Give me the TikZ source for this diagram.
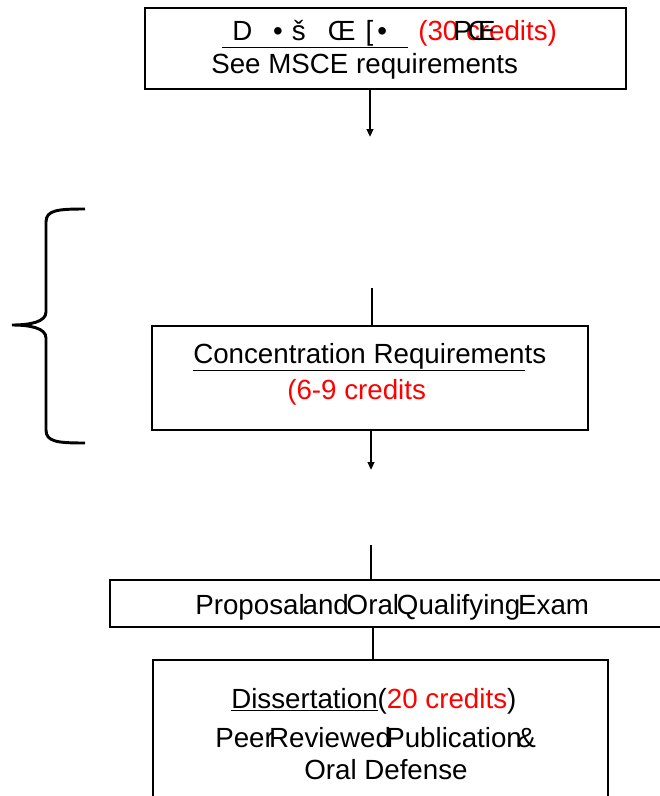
\documentclass[tikz,border=0pt]{standalone}
\usepackage{fontspec}
\setmainfont{Liberation Sans}
\usetikzlibrary{arrows.meta,positioning}
\definecolor{pred}{HTML}{FF0000}
\newcommand\tightsp[1]{\spaceskip #1\relax}
\tikzset{
  % plain white box with a heavy black outline
  box/.style  = {rectangle, draw=black, line width=2.2pt, inner sep=0pt},
  lane/.style = {line width=1.5pt, black},
  arr/.style  = {-{Triangle[length=6pt,width=5pt]}, line width=1.5pt, black},
  txt/.style  = {anchor=base west, inner sep=0pt, font=\fontsize{20.8}{24}\selectfont},
  cr/.style   = {txt, text=pred},
  brace/.style = {line width=2.2pt, black},
}

\begin{document}
\begin{tikzpicture}[x=0.75pt,y=-0.75pt]
\useasboundingbox (0,0) rectangle (660,796);
% boxes
\node[box, minimum width=360.75pt, minimum height=60.75pt] (msce) at (385.5,48.5) {};
\node[box, minimum width=327pt,    minimum height=78pt]    (conc) at (370,378) {};
\node[box, minimum width=417pt,    minimum height=35.25pt] (prop) at (388,603.5) {};
\node[box, minimum width=341.25pt, minimum height=127.5pt] (diss) at (380.5,745) {};
% texts
\node[txt] (msceT) at (222,40)
  {\underline{\hspace*{7.5pt}D\hspace*{15.7pt}•\hspace*{6.8pt}š\hspace*{16.5pt}Œ\hspace*{7.5pt}[\hspace*{3pt}•\hspace*{15.7pt}}};
\node[cr]  (msceC) at (418,40) {(30 credits)};
\node[txt] (msceP) at (453,40) {P\hspace*{-3pt}Œ};
\node[txt] (msceS) at (211,73) {See MSCE requirements};
\node[txt] (concT) at (193,363) {\underline{Concentration Requiremen}ts};
\node[cr]  (concC) at (287,399) {(6-9 credits};
\node[txt] (propT) at (195,614) {\tightsp{-1.6pt}Proposal and Oral Qualifying Exam};
\node[txt] (dissT) at (231,708) {\underline{Dissertation}(\textcolor{pred}{20 credits})};
\node[txt] (dissP) at (215,747) {\tightsp{-3.5pt}Peer Reviewed Publication \&};
\node[txt] (dissO) at (304,779) {\tightsp{0pt}Oral Defense};
% connectors
\coordinate (a1) at (370,137);
\coordinate (a2) at (372,288);
\coordinate (a3) at (371,470);
\coordinate (a4) at (371,545);
\draw[arr]  (msce.south -| a1) -- (a1);
\draw[lane] (a2) -- (a2 |- conc.north);
\draw[arr]  (conc.south -| a3) -- (a3);
\draw[lane] (a4) -- (a4 |- prop.north);
\draw[lane] ([xshift=-11pt]prop.south) -- ([xshift=-11pt]prop.south |- diss.north);
% curly brace
\draw[brace] (85,209) .. controls (58,209) and (46,210) .. (46,222) -- (46,312)
  .. controls (46,322) and (30,325) .. (12,325)
  .. controls (30,325) and (46,328) .. (46,338) -- (46,430)
  .. controls (46,442) and (58,443) .. (85,443);
\end{tikzpicture}
\end{document}
